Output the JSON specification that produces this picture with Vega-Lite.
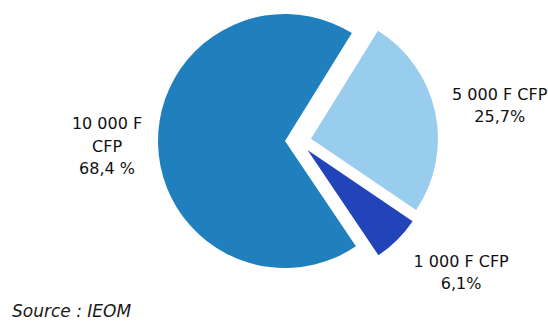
{
  "$schema": "https://vega.github.io/schema/vega-lite/v6.json",
  "width": 526,
  "height": 282,
  "autosize": "none",
  "padding": {"left": 22, "top": 0, "right": 0, "bottom": 40},
  "background": "white",
  "config": {"view": {"stroke": null}},
  "title": {
    "text": "Source : IEOM",
    "orient": "bottom",
    "anchor": "start",
    "frame": "group",
    "offset": 12,
    "dx": -10,
    "font": "DejaVu Sans",
    "fontSize": 17,
    "fontStyle": "italic",
    "fontWeight": "normal",
    "color": "#1a1a1a"
  },
  "data": {
    "values": [
      {"key": "5000", "label": "5 000 F CFP\n25,7%", "value": 25.7},
      {"key": "1000", "label": "1 000 F CFP\n6,1%", "value": 6.1},
      {"key": "10000", "label": "10 000 F\nCFP\n68,4 %", "value": 68.4}
    ]
  },
  "transform": [
    {"stack": "value", "groupby": [], "as": ["v0", "v1"]},
    {"calculate": "(datum.v0 + datum.v1) / 2", "as": "mid"}
  ],
  "layer": [
    {
      "transform": [{"filter": "datum.key === '10000'"}],
      "mark": {"type": "arc", "radius": 127, "fill": "#1f80bd"},
      "encoding": {
        "theta": {"field": "v0", "type": "quantitative", "scale": {"domain": [0, 100.2], "range": [0.555, 6.838]}},
        "theta2": {"field": "v1"}
      }
    },
    {
      "transform": [{"filter": "datum.key === '5000'"}],
      "mark": {"type": "arc", "radius": 127, "fill": "#99cdee", "xOffset": 26, "yOffset": -2.3},
      "encoding": {
        "theta": {"field": "v0", "type": "quantitative", "scale": {"domain": [0, 100.2], "range": [0.555, 6.838]}},
        "theta2": {"field": "v1"}
      }
    },
    {
      "transform": [{"filter": "datum.key === '1000'"}],
      "mark": {"type": "arc", "radius": 127, "fill": "#2144b9", "xOffset": 22.5, "yOffset": 9},
      "encoding": {
        "theta": {"field": "v0", "type": "quantitative", "scale": {"domain": [0, 100.2], "range": [0.555, 6.838]}},
        "theta2": {"field": "v1"}
      }
    },
    {
      "transform": [{"filter": "datum.key === '10000'"}],
      "mark": {"type": "text", "radius": 179, "dx": 1, "dy": -20, "font": "DejaVu Sans", "fontSize": 16, "lineHeight": 22.5, "lineBreak": "\n", "align": "center", "baseline": "middle", "color": "#111111"},
      "encoding": {
        "theta": {"field": "mid", "type": "quantitative", "scale": {"domain": [0, 100.2], "range": [0.555, 6.838]}},
        "text": {"field": "label"}
      }
    },
    {
      "transform": [{"filter": "datum.key === '5000'"}],
      "mark": {"type": "text", "radius": 191.5, "xOffset": 26, "yOffset": -2.3, "dx": 1.4, "dy": -3.5, "font": "DejaVu Sans", "fontSize": 16, "lineHeight": 21.5, "lineBreak": "\n", "align": "center", "baseline": "middle", "color": "#111111"},
      "encoding": {
        "theta": {"field": "mid", "type": "quantitative", "scale": {"domain": [0, 100.2], "range": [0.555, 6.838]}},
        "text": {"field": "label"}
      }
    },
    {
      "transform": [{"filter": "datum.key === '1000'"}],
      "mark": {"type": "text", "radius": 196.4, "xOffset": 22.5, "yOffset": 9, "dx": 15, "dy": -27, "font": "DejaVu Sans", "fontSize": 16, "lineHeight": 21.5, "lineBreak": "\n", "align": "center", "baseline": "middle", "color": "#111111"},
      "encoding": {
        "theta": {"field": "mid", "type": "quantitative", "scale": {"domain": [0, 100.2], "range": [0.555, 6.838]}},
        "text": {"field": "label"}
      }
    }
  ]
}
